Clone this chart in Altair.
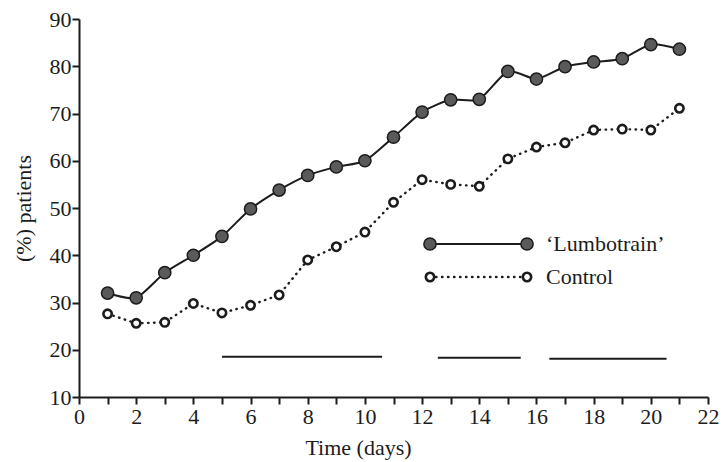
import altair as alt
import pandas as pd

# ---- data ----
days = list(range(1, 22))
lumbotrain = [32.0, 31.0, 36.3, 40.0, 44.0, 49.8, 53.8, 56.9, 58.7, 60.0, 65.0, 70.3,
              72.9, 73.0, 78.9, 77.3, 79.9, 80.9, 81.6, 84.6, 83.6]
control = [27.6, 25.6, 25.8, 29.8, 27.8, 29.4, 31.6, 39.0, 41.8, 44.9, 51.2, 56.0,
           55.0, 54.6, 60.4, 62.9, 63.8, 66.5, 66.7, 66.5, 71.1]
bar_start = [5.0, 12.55, 16.45]
bar_end = [10.6, 15.45, 20.55]
bar_level = [18.5, 18.3, 18.1]
x_ticks = list(range(0, 23))
y_ticks = list(range(10, 91, 10))
legend_labels = ["\u2018Lumbotrain\u2019", "Control"]

# ---- layout ----
W, H = 629, 378
PAD = {"left": 79, "top": 19, "right": 15, "bottom": 65}
FONT = "Liberation Serif"
INK = "#1c1c1c"
FS = 22

df = pd.DataFrame({"day": days, "lumbo": lumbotrain, "control": control})
bars = pd.DataFrame({"x": bar_start, "x2": bar_end, "y": bar_level})

xscale = alt.Scale(domain=[0, 22], nice=False, zero=False)
yscale = alt.Scale(domain=[10, 90], nice=False, zero=False)

xaxis = alt.Axis(values=x_ticks, labelExpr="datum.value % 2 == 0 ? datum.label : ''",
                 grid=False, labelFont=FONT, labelFontSize=FS,
                 labelColor=INK, titleFont=FONT, titleFontSize=FS, titleFontWeight="normal",
                 titleColor=INK, domainColor=INK, domainWidth=2, tickColor=INK, tickWidth=2,
                 tickSize=7, labelPadding=2, titleX=279, titleY=57, titleAlign="center",
                 titleBaseline="alphabetic", labelFlush=False, labelOverlap=False)
yaxis = alt.Axis(values=y_ticks, grid=False, labelFont=FONT,
                 labelFontSize=FS, labelColor=INK, titleFont=FONT, titleFontSize=FS,
                 titleFontWeight="normal", titleColor=INK, domainColor=INK, domainWidth=2,
                 tickColor=INK, tickWidth=2, tickSize=7, labelPadding=1, titlePadding=14,
                 labelFlush=False, labelOverlap=False)

XT, YT = "Time (days)", "(%) patients"


def xy(ycol):
    return dict(
        x=alt.X("day:Q", scale=xscale, axis=xaxis, title=XT),
        y=alt.Y(f"{ycol}:Q", scale=yscale, axis=yaxis, title=YT),
    )


base = alt.Chart(df)

lumbo_line = base.mark_line(interpolate="cardinal", tension=0.3, color=INK, strokeWidth=2).encode(**xy("lumbo"))
lumbo_pts = base.mark_circle(size=150, color="#5a5a5a", stroke=INK, strokeWidth=1.5, opacity=1).encode(**xy("lumbo"))
ctrl_line = base.mark_line(color=INK, strokeWidth=2.4, strokeDash=[0.5, 5.5], strokeCap="round").encode(**xy("control"))
ctrl_pts = base.mark_circle(size=70, color="white", stroke=INK, strokeWidth=2.6, opacity=1).encode(**xy("control"))
bar_rules = alt.Chart(bars).mark_rule(color=INK, strokeWidth=2).encode(
    x=alt.X("x:Q", scale=xscale, axis=xaxis, title=XT),
    x2="x2:Q",
    y=alt.Y("y:Q", scale=yscale, axis=yaxis, title=YT),
)

# ---- hand-made legend (pixel layout within plot area) ----
LX0, LX1, LTX = 351, 448, 467
LY = [225, 258]
one = alt.Chart(pd.DataFrame({"k": [0]}))

legend_layers = [
    one.mark_rule(color=INK, strokeWidth=2).encode(
        x=alt.value(LX0), x2=alt.value(LX1), y=alt.value(LY[0])),
    one.mark_rule(color=INK, strokeWidth=2.4, strokeDash=[0.5, 5.5], strokeCap="round").encode(
        x=alt.value(LX0), x2=alt.value(LX1), y=alt.value(LY[1])),
]
for px in (LX0, LX1):
    legend_layers.append(
        one.mark_circle(size=150, color="#5a5a5a", stroke=INK, strokeWidth=1.5, opacity=1).encode(
            x=alt.value(px), y=alt.value(LY[0])))
    legend_layers.append(
        one.mark_circle(size=70, color="white", stroke=INK, strokeWidth=2.6, opacity=1).encode(
            x=alt.value(px), y=alt.value(LY[1])))
for lab, py in zip(legend_labels, LY):
    legend_layers.append(
        one.mark_text(align="left", baseline="middle", font=FONT, fontSize=FS, color=INK).encode(
            x=alt.value(LTX), y=alt.value(py), text=alt.value(lab)))

chart = alt.layer(
    lumbo_line, ctrl_line, bar_rules, lumbo_pts, ctrl_pts, *legend_layers,
).properties(
    width=W, height=H, padding=PAD, autosize=alt.AutoSizeParams(type="none"),
    background="white",
).configure_view(stroke=None)

chart.save("out.html", embed_options={"renderer": "svg", "actions": False})
